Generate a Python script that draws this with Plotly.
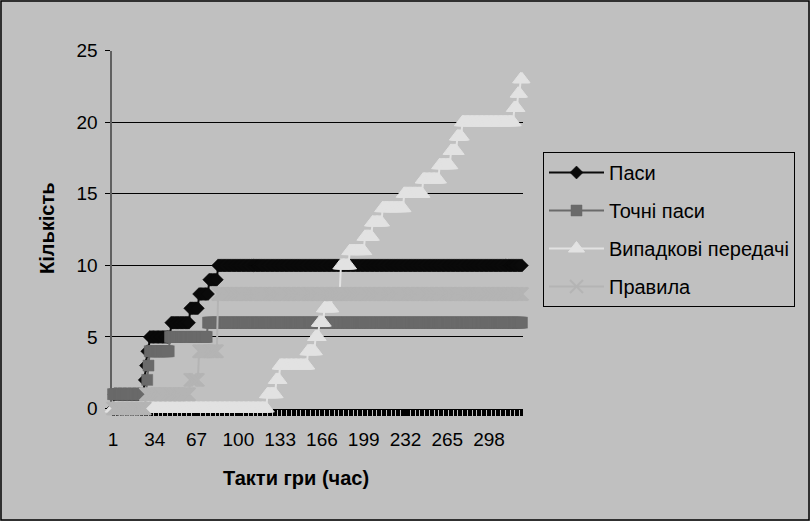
import plotly.graph_objects as go

# ---- data ----
N_CATEGORIES = 324
categories = list(range(1, N_CATEGORIES + 1))
tick_labels = [1, 34, 67, 100, 133, 166, 199, 232, 265, 298]

series_names = ["Паси", "Точні паси", "Випадкові передачі", "Правила"]

# step changes: (first category of the run, value)
pasy_steps = [(1, 0), (2, 1), (26, 2), (27, 3), (28, 4), (30, 5), (47, 6),
              (62, 7), (69, 8), (77, 9), (84, 10)]
tochni_steps = [(1, 1), (28, 2), (29, 3), (30, 4), (46, 5), (76, 6)]
vypadkovi_steps = [(1, 0), (123, 1), (130, 2), (133, 3), (155, 4), (161, 5),
                   (164, 6), (168, 7), (174, 8), (181, 10), (188, 11),
                   (200, 12), (206, 13), (214, 14), (231, 15), (246, 16),
                   (259, 17), (268, 18), (273, 19), (277, 20), (318, 21),
                   (321, 22), (323, 23)]
pravyla_steps = [(1, 0), (27, 1), (62, 2), (69, 4), (84, 8)]


def expand(steps, n):
    vals = []
    for i, (start, v) in enumerate(steps):
        end = steps[i + 1][0] if i + 1 < len(steps) else n + 1
        vals.extend([v] * (end - start))
    return vals


pasy = expand(pasy_steps, N_CATEGORIES)
tochni = expand(tochni_steps, N_CATEGORIES)
vypadkovi = expand(vypadkovi_steps, N_CATEGORIES)
pravyla = expand(pravyla_steps, N_CATEGORIES)

# ---- geometry helpers (pixel -> paper, paper = whole figure) ----
W, H = 810, 521
PLOT_L, PLOT_R, PLOT_T, PLOT_B = 112.4, 522.6, 50.7, 408.5


def px(xp):
    return xp / W


def py(yp):
    return (H - yp) / H


FONT = "Liberation Sans, Arial, sans-serif"

fig = go.Figure()
styles = [
    (pasy, "#0A0A0A", "diamond", 10, 0.5),
    (tochni, "#6A6A6A", "square", 11, 0.5),
    (vypadkovi, "#E2E2E2", "triangle-up", 14, 1),
    (pravyla, "#B4B4B4", "x-thin", 13, 2),
]
for i, (vals, color, sym, size, lw) in enumerate(styles):
    fig.add_trace(go.Scatter(
        x=categories, y=vals, mode="lines+markers", name=series_names[i],
        legendgroup=str(i),
        line=dict(color=color, width=2),
        marker=dict(symbol=sym, size=size, color=color,
                    line=dict(color=color, width=lw)),
        cliponaxis=False,
    ))

fig.update_layout(
    width=W, height=H,
    margin=dict(l=0, r=0, t=0, b=0, autoexpand=False),
    paper_bgcolor="#C0C0C0", plot_bgcolor="#C0C0C0",
    font=dict(family=FONT, size=19, color="black"),
    showlegend=True,
    legend=dict(
        x=px(543), y=py(152), xanchor="left", yanchor="top",
        bgcolor="#C0C0C0", bordercolor="black", borderwidth=1,
        font=dict(family=FONT, size=20, color="black"),
        itemwidth=55, traceorder="grouped", tracegroupgap=9,
    ),
    xaxis=dict(
        domain=[px(PLOT_L), px(PLOT_R)],
        range=[0.5, N_CATEGORIES + 0.5], automargin=False,
        tickmode="array", tickvals=tick_labels,
        ticktext=[str(t) for t in tick_labels],
        ticks="outside", ticklen=6, tickcolor="black", tickwidth=1,
        minor=dict(dtick=1, tick0=0.5, ticks="outside", ticklen=6,
                   tickcolor="black", tickwidth=1, showgrid=False),
        showline=True, linecolor="black", linewidth=1,
        showgrid=False, zeroline=False, layer="below traces",
        tickfont=dict(size=19), ticklabelstandoff=8,
    ),
    yaxis=dict(
        domain=[py(PLOT_B), py(PLOT_T)],
        range=[0, 25], tickmode="linear", tick0=0, dtick=5,
        automargin=False,
        ticks="outside", ticklen=5, tickcolor="black",
        showgrid=True, gridcolor="black", gridwidth=1,
        showline=True, linecolor="#606060", linewidth=2,
        zeroline=False, layer="below traces",
        tickfont=dict(size=19), ticklabelstandoff=4,
    ),
    annotations=[
        dict(text="<b>Кількість</b>", x=px(47), y=py(228), xref="paper",
             yref="paper", showarrow=False, textangle=-90,
             xanchor="center", yanchor="middle",
             font=dict(family=FONT, size=20, color="black")),
        dict(text="<b>Такти гри (час)</b>", x=px(296), y=py(478),
             xref="paper", yref="paper", showarrow=False,
             xanchor="center", yanchor="middle",
             font=dict(family=FONT, size=20, color="black")),
    ],
    shapes=[
        dict(type="rect", xref="paper", yref="paper",
             x0=px(1), x1=px(809), y0=py(520), y1=py(1),
             line=dict(color="black", width=1.5), fillcolor="rgba(0,0,0,0)"),
    ],
)

fig.write_html(
    "out.html",
    config={"displayModeBar": False},
    post_script="document.body.style.margin='0';document.body.style.overflow='hidden';",
)
